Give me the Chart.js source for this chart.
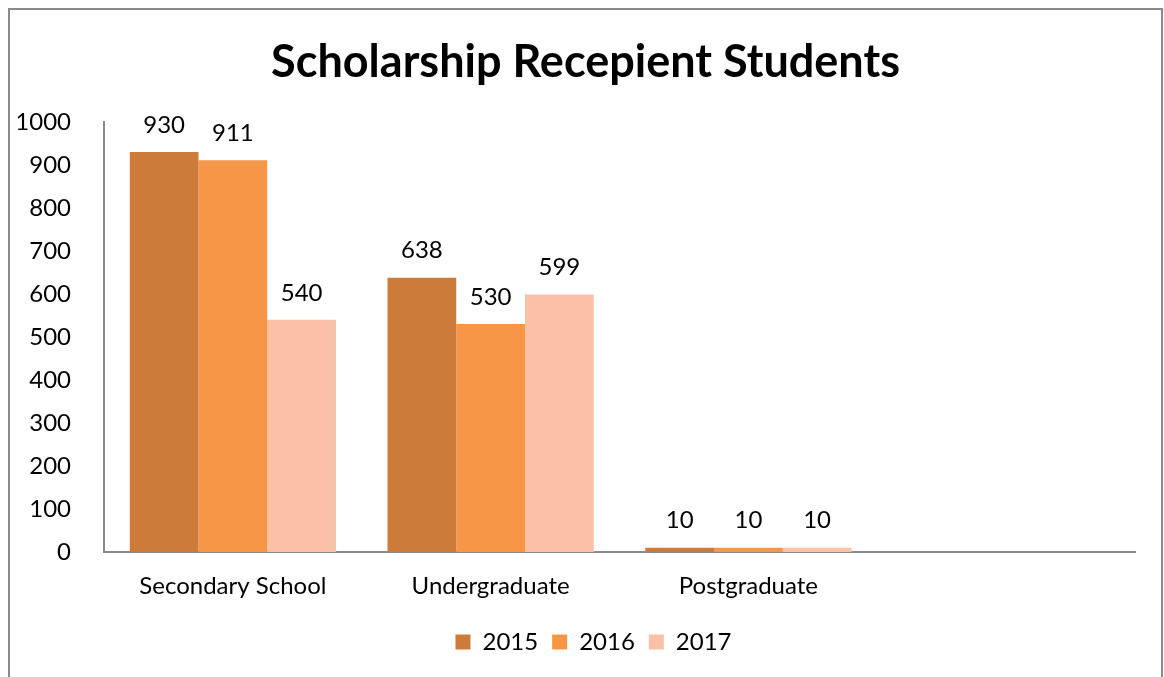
<!DOCTYPE html>
<html>
<head>
<meta charset="utf-8">
<script src="https://cdn.jsdelivr.net/npm/chart.js@4/dist/chart.umd.min.js"></script>
<style>
  html, body { margin: 0; padding: 0; background: #fff; }
  #wrap { width: 1164px; height: 677px; }
</style>
</head>
<body>
<div id="wrap"><canvas id="chart-scholarship" width="1164" height="677"></canvas></div>
<script>
// data
const categories = ["Secondary School", "Undergraduate", "Postgraduate", ""];
const years = ["2015", "2016", "2017"];
const values2015 = [930, 638, 10, null];
const values2016 = [911, 530, 10, null];
const values2017 = [540, 599, 10, null];
const yTicks = [0, 100, 200, 300, 400, 500, 600, 700, 800, 900, 1000];

const colors = ["#cd7b3a", "#f79646", "#fac1a7"];
const fontFamily = "Lato, 'Open Sans', sans-serif";

// outer frame like the office chart border (bottom edge is off screen)
const framePlugin = {
  id: "frame",
  afterLayout(chart) {
    // legend sits a little right of centre in the original
    if (chart.legend) {
      chart.legend.left += 8;
      chart.legend.right += 8;
    }
  },
  beforeDraw(chart) {
    const ctx = chart.ctx;
    ctx.save();
    ctx.strokeStyle = "#8a8a8a";
    ctx.lineWidth = 2;
    ctx.beginPath();
    ctx.moveTo(9, 700);
    ctx.lineTo(9, 9);
    ctx.lineTo(1162, 9);
    ctx.lineTo(1162, 700);
    ctx.stroke();
    ctx.restore();
  },
};

// value labels above each bar
const valueLabels = {
  id: "valueLabels",
  afterDatasetsDraw(chart) {
    const ctx = chart.ctx;
    ctx.save();
    ctx.font = "24px " + fontFamily;
    ctx.fillStyle = "#000";
    ctx.textAlign = "center";
    ctx.textBaseline = "middle";
    chart.data.datasets.forEach((ds, i) => {
      chart.getDatasetMeta(i).data.forEach((bar, j) => {
        if (ds.data[j] == null) return;
        ctx.fillText(String(ds.data[j]), bar.x, bar.y - 27);
      });
    });
    ctx.restore();
  },
};

const ctx = document.getElementById("chart-scholarship").getContext("2d");
new Chart(ctx, {
  type: "bar",
  data: {
    labels: categories,
    datasets: [
      { label: years[0], data: values2015, backgroundColor: colors[0] },
      { label: years[1], data: values2016, backgroundColor: colors[1] },
      { label: years[2], data: values2017, backgroundColor: colors[2] },
    ],
  },
  options: {
    responsive: false,
    animation: false,
    // left/right padding chosen so title + legend centre on the frame
    layout: { padding: { left: 18, right: 11, top: 0, bottom: 13 } },
    datasets: {
      bar: { categoryPercentage: 0.8, barPercentage: 1.0, borderWidth: 0 },
    },
    scales: {
      x: {
        grid: { display: false },
        border: { display: true, color: "#8a8a8a", width: 2 },
        ticks: {
          color: "#000",
          font: { family: fontFamily, size: 24 },
          padding: 12,
          maxRotation: 0,
        },
        afterFit(scale) {
          scale.height = 64;
        },
      },
      y: {
        min: 0,
        max: 1000,
        afterBuildTicks(scale) {
          scale.ticks = yTicks.map((v) => ({ value: v }));
        },
        afterFit(scale) {
          scale.width = 86;
        },
        grid: { display: false },
        border: { display: true, color: "#8a8a8a", width: 2 },
        ticks: {
          color: "#000",
          font: { family: fontFamily, size: 24 },
          padding: 25,
          callback: (v) => String(v),
        },
      },
      // empty spacer on the right so the plot ends before the frame
      spacer: {
        type: "linear",
        position: "right",
        display: true,
        grid: { display: false },
        border: { display: false },
        ticks: { display: false },
        afterFit(scale) {
          scale.width = 18;
        },
      },
    },
    plugins: {
      title: {
        display: true,
        text: "Scholarship Recepient Students",
        color: "#000",
        font: { family: fontFamily, size: 45, weight: "bold" },
        padding: { top: 35, bottom: 33 },
      },
      legend: {
        position: "bottom",
        labels: {
          color: "#000",
          font: { family: fontFamily, size: 24 },
          boxWidth: 15,
          boxHeight: 15,
          padding: 14,
        },
      },
      tooltip: { enabled: false },
    },
  },
  plugins: [framePlugin, valueLabels],
});
</script>
</body>
</html>
